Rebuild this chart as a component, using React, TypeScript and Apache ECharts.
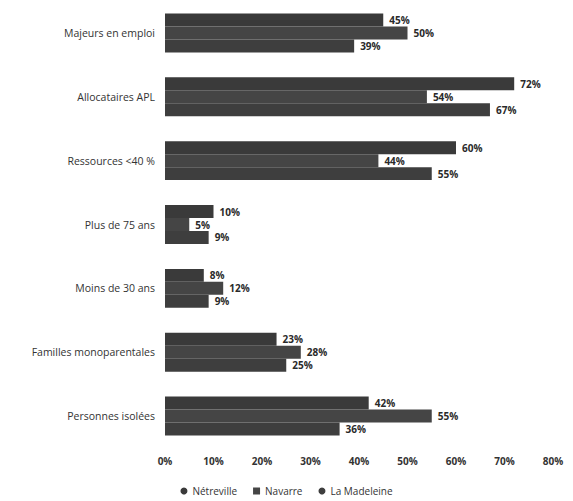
import React, { useEffect, useRef } from "react";
import * as echarts from "echarts";

const categories = [
  "Majeurs en emploi",
  "Allocataires APL",
  "Ressources <40 %",
  "Plus de 75 ans",
  "Moins de 30 ans",
  "Familles monoparentales",
  "Personnes isolées",
];
const netreville = [45, 72, 60, 10, 8, 23, 42];
const navarre = [50, 54, 44, 5, 12, 28, 55];
const laMadeleine = [39, 67, 55, 9, 9, 25, 36];
const seriesNames = ["Nétreville", "Navarre", "La Madeleine"];
const xTicks = [0, 10, 20, 30, 40, 50, 60, 70, 80];

const FONT = "Open Sans";

export default function App() {
  const ref = useRef<HTMLDivElement>(null);
  useEffect(() => {
    if (!ref.current) return;
    const chart = echarts.init(ref.current, undefined, { renderer: "svg" });
    const colors = ["#3a3a3a", "#454545", "#3e3e3e"];
    const mk = (name: string, data: number[], i: number) => ({
      name,
      type: "bar",
      data,
      barGap: "0%",
      barCategoryGap: "39%",
      itemStyle: { color: colors[i] },
      label: {
        show: true,
        position: "right",
        distance: 6,
        formatter: "{c}%",
        fontFamily: FONT,
        fontSize: 10,
        fontWeight: "bold",
        color: "#2a2a2a",
      },
    });
    chart.setOption({
      animation: false,
      textStyle: { fontFamily: FONT },
      grid: { left: 165, right: 20, top: 1, bottom: 53, containLabel: false },
      legend: {
        bottom: 0,
        left: "center",
        itemWidth: 7,
        itemHeight: 7,
        itemGap: 16,
        textStyle: { fontFamily: FONT, fontSize: 10, color: "#333" },
        data: [
          { name: seriesNames[0], icon: "circle" },
          { name: seriesNames[1], icon: "rect" },
          { name: seriesNames[2], icon: "circle" },
        ],
      },
      xAxis: {
        type: "value",
        min: xTicks[0],
        max: xTicks[xTicks.length - 1],
        interval: 10,
        axisLine: { show: false },
        axisTick: { show: false },
        splitLine: { show: false },
        axisLabel: {
          formatter: "{value}%",
          fontFamily: FONT,
          fontSize: 10,
          fontWeight: "bold",
          color: "#333",
          margin: 8,
        },
      },
      yAxis: {
        type: "category",
        data: categories,
        inverse: true,
        axisLine: { show: false },
        axisTick: { show: false },
        axisLabel: {
          fontFamily: FONT,
          fontSize: 10.5,
          color: "#333",
          margin: 10,
        },
      },
      series: [
        mk(seriesNames[0], netreville, 0),
        mk(seriesNames[1], navarre, 1),
        mk(seriesNames[2], laMadeleine, 2),
      ],
    });
    return () => chart.dispose();
  }, []);
  return <div ref={ref} style={{ width: 573, height: 501, marginLeft: -8, marginTop: -8 }} />;
}
